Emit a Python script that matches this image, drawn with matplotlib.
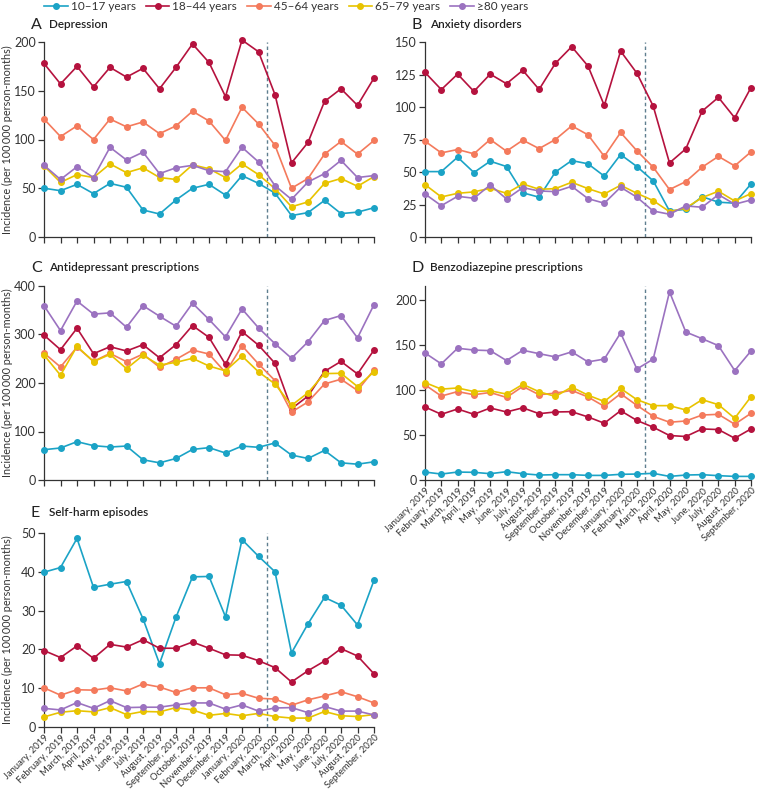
import numpy as np
import matplotlib
matplotlib.use("Agg")
import matplotlib.pyplot as plt

plt.rcParams['font.family'] = ['Lato', 'DejaVu Sans']

# Months, January 2019 to September 2020
months = ["January, 2019", "February, 2019", "March, 2019", "April, 2019", "May, 2019",
          "June, 2019", "July, 2019", "August, 2019", "September, 2019", "October, 2019",
          "November, 2019", "December, 2019", "January, 2020", "February, 2020",
          "March, 2020", "April, 2020", "May, 2020", "June, 2020", "July, 2020",
          "August, 2020", "September, 2020"]

groups = ["10–17 years", "18–44 years", "45–64 years", "65–79 years", "≥80 years"]
colors = ["#1ba3c6", "#b5123e", "#f47a5c", "#e8c300", "#9b72c0"]

# A Depression
dep_10_17 = [50, 47.5, 54, 44.5, 55, 51, 27.7, 23.6, 38, 50, 54, 43, 63, 55, 45, 22, 25, 37.5, 24, 25.5, 30]
dep_18_44 = [178, 157, 175, 154, 174, 164, 173, 152, 174, 198, 179, 144, 202, 190, 146, 76, 97, 139, 152, 135, 163]
dep_45_64 = [121, 103, 114, 100, 121, 113, 118, 106, 114, 129, 119, 99, 133, 116, 94, 50, 60, 85, 98, 85, 99]
dep_65_79 = [73, 56, 64, 61, 75, 66, 71, 61, 59, 74, 70, 61, 75, 64, 49.6, 31, 36, 55, 60, 52, 62]
dep_80 = [73.5, 59, 72, 61, 92, 79, 87, 65, 71, 73.5, 68, 67, 92, 77, 52.6, 38.6, 56.4, 65, 78.6, 61, 63]

# B Anxiety disorders
anx_10_17 = [50.3, 50.3, 61.4, 49.6, 58.3, 54.2, 34, 30.6, 50, 58.8, 56.3, 46.8, 63.4, 54.2, 43.2, 20, 21.3, 31, 26.8, 26, 40.8]
anx_18_44 = [126.6, 113.4, 125.3, 112, 125.3, 117.9, 128.2, 113.5, 133.6, 146.4, 131.5, 101.2, 143, 126, 100.7, 57, 67.8, 96.8, 107.4, 91.7, 115]
anx_45_64 = [73.7, 64.7, 67.3, 64, 75, 66, 74.5, 68, 75, 85.5, 78.6, 62, 80.4, 66.3, 53.7, 36.5, 42.6, 53.7, 62, 54.7, 65.5]
anx_65_79 = [40.3, 30.8, 33.6, 34.7, 37.5, 33.6, 40.8, 36.7, 37.2, 42.1, 37.2, 33.1, 39.8, 33.6, 28, 19.5, 22.3, 30.3, 35.2, 27.7, 33.4]
anx_80 = [33.1, 24.1, 31.3, 29.8, 40, 29.3, 38, 35.4, 34.9, 39, 29.5, 26, 38.3, 30.6, 20, 17.5, 23.9, 22.9, 32.6, 25.2, 28.5]

# C Antidepressant prescriptions
adp_10_17 = [62.5, 66, 79, 70.8, 68, 70, 41.7, 35.4, 44.4, 63, 66.7, 55.6, 70, 67.4, 76.4, 51.4, 44.4, 61, 35.4, 32.6, 37.5]
adp_18_44 = [298.7, 268.6, 313, 260.4, 274.8, 266, 279, 252, 279, 318.5, 294, 238.5, 306, 278, 240.6, 147, 173, 224, 244.5, 218.7, 268]
adp_45_64 = [261.8, 233, 274, 244.7, 261, 244, 259.7, 232.4, 248.8, 268, 259.7, 221.5, 276.8, 239.2, 205, 140, 161, 198, 207.8, 184.6, 227]
adp_65_79 = [257.7, 216, 275.6, 244, 259, 229.6, 257, 237, 242.6, 250.9, 235, 225, 255.6, 223, 198, 153.8, 179.8, 219.4, 220, 192.7, 223]
adp_80 = [359.5, 308, 369, 342, 344.6, 315, 359.5, 337.7, 317, 364.5, 331, 295, 352.7, 313.7, 281, 251, 285, 328.8, 339, 293, 361.6]

# D Benzodiazepine prescriptions
bzd_10_17 = [8.8, 6.6, 8.8, 8.5, 7, 9.2, 7, 5.5, 5.9, 5.9, 5.1, 5.1, 6.3, 6.6, 7.4, 4, 5.5, 5.9, 4.8, 4, 4]
bzd_18_44 = [80.9, 72.8, 78.7, 72.8, 79.8, 75.4, 80, 73.5, 75.4, 75.7, 69.9, 62.9, 76.8, 66, 58.5, 49.3, 48.2, 56.6, 55.9, 46.3, 56.6]
bzd_45_64 = [105.5, 93, 98, 94.5, 97, 91.5, 103.7, 94.5, 96.3, 99.3, 92, 81.6, 95.6, 82.7, 70.6, 64, 65.4, 72, 72.8, 61.8, 73.9]
bzd_65_79 = [108, 100.7, 102, 98, 98.9, 95.2, 106, 97.8, 92.6, 103, 94, 87, 101.5, 89, 82.4, 82.4, 77.6, 89, 83.5, 68.4, 92.3]
bzd_80 = [140.8, 128.7, 146, 144, 143.4, 132.4, 143.8, 140, 136.4, 142, 130.9, 134, 163, 123, 134, 208.5, 164, 156.6, 148.9, 121.3, 143]

# E Self-harm episodes
sh_10_17 = [39.9, 41.1, 48.6, 36, 36.8, 37.5, 27.9, 16.3, 28.3, 38.7, 38.8, 28.4, 48.3, 44, 40, 19.1, 26.6, 33.4, 31.4, 26.3, 37.8]
sh_18_44 = [19.7, 17.9, 20.9, 17.7, 21.3, 20.6, 22.5, 20.3, 20.3, 21.9, 20.3, 18.6, 18.5, 17.1, 15.3, 11.6, 14.5, 17, 20.2, 18.3, 13.7]
sh_45_64 = [10.1, 8.2, 9.6, 9.5, 10.1, 9.3, 11.1, 10.3, 8.9, 10.1, 10.1, 8.3, 8.7, 7.4, 7.2, 5.6, 7, 8, 9.1, 7.8, 6.2]
sh_65_79 = [2.6, 3.8, 4.2, 3.9, 5, 3.2, 4, 3.9, 5, 4.4, 3, 3.5, 2.9, 3.5, 2.7, 2.3, 2.3, 4, 2.9, 2.7, 3.2]
sh_80 = [4.8, 4.4, 6.3, 4.8, 6.8, 5, 5.1, 5.1, 5.7, 6.2, 6.2, 4.6, 5.7, 4.1, 4.9, 5, 3.7, 5.3, 4.1, 4.1, 3.1]

W, H = 758, 793
fig = plt.figure(figsize=(W / 100, H / 100), dpi=100)


def px_axes(left, top, right, bottom):
    # axes placed with pixel edges
    return fig.add_axes([left / W, 1 - bottom / H, (right - left) / W, (bottom - top) / H])


def panel(ax, letter, title, series, ymax, yticks, xlabels, title_px):
    x = np.arange(len(months))
    for vals, c in zip(series, colors):
        ax.plot(x, vals, color=c, lw=1.2, marker='o', ms=4, clip_on=False, zorder=3)
    ax.axvline(13.5, color='#5f7f8f', lw=1, ls=(0, (2.5, 2)), zorder=2)
    ax.set_xlim(0, 20)
    ax.set_ylim(0, ymax)
    ax.set_yticks(yticks)
    ax.set_xticks(x)
    for s in ['top', 'right']:
        ax.spines[s].set_visible(False)
    for s in ['left', 'bottom']:
        ax.spines[s].set_color('#333333')
        ax.spines[s].set_linewidth(0.9)
    ax.tick_params(direction='out', length=4, width=0.9, color='#333333',
                   labelsize=9, labelcolor='#333333', pad=2)
    ax.tick_params(axis='x', pad=0.5)
    if xlabels:
        ax.set_xticklabels(months, rotation=45, ha='right', rotation_mode='anchor', fontsize=6.8)
    else:
        ax.set_xticklabels([])
    # title position given as pixels above the axes top
    h = ax.get_position().height * H
    yt = 1 + title_px / h
    ax.text(-0.04, yt, letter, transform=ax.transAxes, fontsize=11.5, color='#222222',
            ha='left', va='center')
    ax.text(0.015, yt, title, transform=ax.transAxes, fontsize=8.5, fontweight='semibold',
            color='#222222', ha='left', va='center')


axA = px_axes(44, 42, 374, 237)
panel(axA, "A", "Depression", [dep_10_17, dep_18_44, dep_45_64, dep_65_79, dep_80],
      200, [0, 50, 100, 150, 200], False, 17)
axB = px_axes(425, 42, 751, 237)
panel(axB, "B", "Anxiety disorders", [anx_10_17, anx_18_44, anx_45_64, anx_65_79, anx_80],
      150, [0, 25, 50, 75, 100, 125, 150], False, 17)
axC = px_axes(44, 286, 374, 480)
panel(axC, "C", "Antidepressant prescriptions", [adp_10_17, adp_18_44, adp_45_64, adp_65_79, adp_80],
      400, [0, 100, 200, 300, 400], False, 18)
axD = px_axes(425, 286, 751, 480)
panel(axD, "D", "Benzodiazepine prescriptions", [bzd_10_17, bzd_18_44, bzd_45_64, bzd_65_79, bzd_80],
      215, [0, 50, 100, 150, 200], True, 18)
axE = px_axes(44, 533, 374, 727)
panel(axE, "E", "Self-harm episodes", [sh_10_17, sh_18_44, sh_45_64, sh_65_79, sh_80],
      50, [0, 10, 20, 30, 40, 50], True, 20)

for ax in [axA, axC, axE]:
    ax.set_ylabel("Incidence (per 100\u2009000 person-months)", fontsize=7.8, color='#333333')
    ax.yaxis.set_label_coords(-31 / 330, 0.5)

# legend across the top
handles = [plt.Line2D([], [], color=c, lw=1.2, marker='o', ms=4) for c in colors]
fig.legend(handles, groups, loc='center left', bbox_to_anchor=(36 / W, 1 - 7 / H), ncol=5,
           frameon=False, fontsize=8.5, handlelength=2.0, handletextpad=0.25,
           columnspacing=0.85, labelcolor='#333333', borderpad=0.2)

fig.savefig("out.png", dpi=100)
